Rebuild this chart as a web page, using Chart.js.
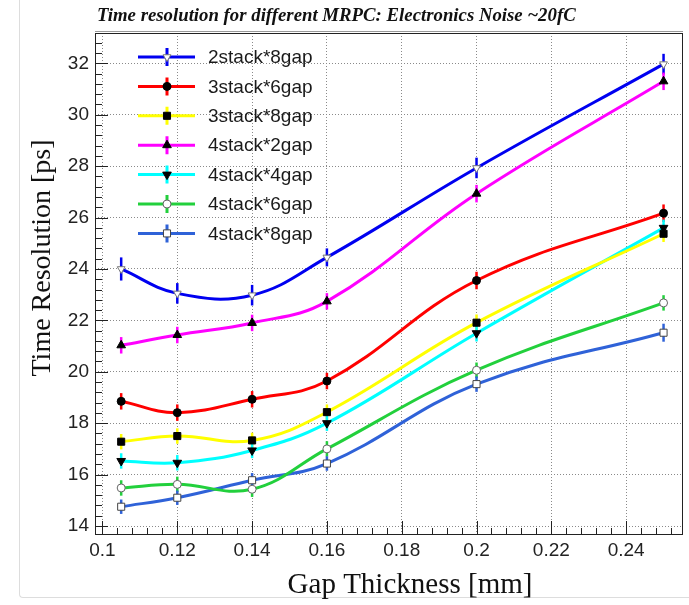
<!DOCTYPE html>
<html lang="en">
<head>
<meta charset="UTF-8">
<title>Time resolution for different MRPC</title>
<script src="https://cdn.jsdelivr.net/npm/chart.js"></script>
<style>
    body { margin: 0; background: #ffffff; overflow: hidden; }
    .wrap { position: relative; width: 689px; height: 605px; overflow: hidden; }
    .edge {
        position: absolute; left: 19px; top: -2px; width: 700px; height: 599px;
        border-left: 1px solid #dddddd; border-bottom: 1px solid #dddddd;
        border-bottom-left-radius: 4px;
    }
    #chart { display: block; position: relative; }
</style>
</head>
<body>
<div class="wrap">
    <div class="edge"></div>
    <canvas id="chart" width="689" height="605"></canvas>
</div>
<script>
// gap thickness [mm]
const gaps = [0.105, 0.12, 0.14, 0.16, 0.2, 0.25];

// time resolution [ps] per MRPC
const s2x8 = [24.0, 23.05, 22.98, 24.45, 27.93, 31.97];
const s3x6 = [18.85, 18.41, 18.93, 19.64, 23.55, 26.17];
const s3x8 = [17.28, 17.5, 17.33, 18.43, 21.91, 25.37];
const s4x2 = [21.03, 21.43, 21.9, 22.74, 26.93, 31.3];
const s4x4 = [16.53, 16.46, 16.94, 18.0, 21.5, 25.6];
const s4x6 = [15.48, 15.62, 15.43, 17.0, 20.06, 22.68];
const s4x8 = [14.75, 15.1, 15.78, 16.43, 19.52, 21.52];

// errors [ps]
const e2x8 = [0.45, 0.4, 0.4, 0.35, 0.4, 0.4];
const e3x6 = [0.32, 0.32, 0.32, 0.32, 0.34, 0.34];
const e3x8 = [0.3, 0.3, 0.3, 0.3, 0.32, 0.32];
const e4x2 = [0.32, 0.32, 0.32, 0.32, 0.34, 0.34];
const e4x4 = [0.3, 0.3, 0.3, 0.3, 0.32, 0.32];
const e4x6 = [0.3, 0.3, 0.3, 0.3, 0.3, 0.3];
const e4x8 = [0.28, 0.28, 0.28, 0.28, 0.3, 0.35];

const labels = ['2stack*8gap', '3stack*6gap', '3stack*8gap', '4stack*2gap', '4stack*4gap', '4stack*6gap', '4stack*8gap'];

// axis ticks
const xTicks = [0.1, 0.12, 0.14, 0.16, 0.18, 0.2, 0.22, 0.24];
const yTicks = [14, 16, 18, 20, 22, 24, 26, 28, 30, 32];

const values = [s2x8, s3x6, s3x8, s4x2, s4x4, s4x6, s4x8];
const errors = [e2x8, e3x6, e3x8, e4x2, e4x4, e4x6, e4x8];

// styles, same order as labels
const styles = [
    { color: '#0000f0', marker: 'triangle', rot: 180, fill: '#ffffff', edge: '#777777', r: 4.5 },
    { color: '#ff0000', marker: 'circle', rot: 0, fill: '#000000', edge: '#000000', r: 4 },
    { color: '#ffff00', marker: 'rect', rot: 0, fill: '#000000', edge: '#000000', r: 5 },
    { color: '#ff00ff', marker: 'triangle', rot: 0, fill: '#000000', edge: '#000000', r: 5 },
    { color: '#00ffff', marker: 'triangle', rot: 180, fill: '#000000', edge: '#000000', r: 5 },
    { color: '#22d03c', marker: 'circle', rot: 0, fill: '#ffffff', edge: '#666666', r: 4 },
    { color: '#2f62d8', marker: 'rect', rot: 0, fill: '#ffffff', edge: '#444444', r: 5 }
];

const datasets = labels.map((label, i) => ({
    label: label,
    data: gaps.map((g, j) => ({ x: g, y: values[i][j] })),
    errors: errors[i],
    borderColor: styles[i].color,
    borderWidth: 3,
    tension: 0.4,
    pointStyle: styles[i].marker,
    rotation: styles[i].rot,
    pointRadius: styles[i].r,
    pointBackgroundColor: styles[i].fill,
    pointBorderColor: styles[i].edge,
    pointBorderWidth: 1,
    fill: false
}));

const rootStyle = {
    id: 'rootStyle',
    beforeDatasetsDraw(chart) {
        const { ctx, scales: { x, y } } = chart;
        // error bars
        chart.data.datasets.forEach((ds) => {
            ctx.save();
            ctx.strokeStyle = ds.borderColor;
            ctx.lineWidth = 2.5;
            ds.data.forEach((p, j) => {
                const px = x.getPixelForValue(p.x);
                ctx.beginPath();
                ctx.moveTo(px, y.getPixelForValue(p.y - ds.errors[j]));
                ctx.lineTo(px, y.getPixelForValue(p.y + ds.errors[j]));
                ctx.stroke();
            });
            ctx.restore();
        });
    },
    afterDraw(chart) {
        const { ctx, chartArea: { left, right, top, bottom }, scales: { x, y } } = chart;
        ctx.save();

        // frame
        ctx.strokeStyle = '#222222';
        ctx.lineWidth = 1;
        ctx.strokeRect(left + 0.5, top + 0.5, right - left - 1, bottom - top - 1);
        ctx.beginPath();
        ctx.moveTo(left, top - 1.5);
        ctx.lineTo(right, top - 1.5);
        ctx.strokeStyle = '#999999';
        ctx.stroke();

        // inner ticks
        ctx.strokeStyle = '#222222';
        ctx.beginPath();
        for (let k = 0; k < 50; k++) {
            const v = 14 + k * 0.4;
            if (v > y.max) break;
            const py = Math.round(y.getPixelForValue(v)) + 0.5;
            ctx.moveTo(left, py);
            ctx.lineTo(left + (k % 5 === 0 ? 13 : 7), py);
        }
        for (let k = 0; k < 40; k++) {
            const v = 0.1 + k * 0.004;
            if (v > x.max) break;
            const px = Math.round(x.getPixelForValue(v)) + 0.5;
            ctx.moveTo(px, bottom);
            ctx.lineTo(px, bottom - (k % 5 === 0 ? 14 : 7));
        }
        ctx.stroke();

        // legend
        chart.data.datasets.forEach((ds, i) => {
            const cy = 57 + i * 29.4;
            ctx.strokeStyle = ds.borderColor;
            ctx.lineWidth = 3;
            ctx.beginPath();
            ctx.moveTo(138, cy);
            ctx.lineTo(195, cy);
            ctx.moveTo(167, cy - 9);
            ctx.lineTo(167, cy + 9);
            ctx.stroke();
            ctx.fillStyle = ds.pointBackgroundColor;
            ctx.strokeStyle = ds.pointBorderColor;
            ctx.lineWidth = 1;
            Chart.helpers.drawPoint(ctx, {
                pointStyle: ds.pointStyle,
                rotation: ds.rotation,
                radius: ds.pointRadius,
                borderWidth: 1
            }, 167, cy);
            ctx.fillStyle = '#1a1a1a';
            ctx.font = '19px "Liberation Sans", Arial, sans-serif';
            ctx.textAlign = 'left';
            ctx.textBaseline = 'middle';
            ctx.fillText(ds.label, 208, cy + 1);
        });

        // titles
        ctx.fillStyle = '#111111';
        ctx.textAlign = 'left';
        ctx.textBaseline = 'alphabetic';
        ctx.font = 'italic bold 18.8px "Liberation Serif", "Times New Roman", serif';
        ctx.fillText('Time resolution for different MRPC: Electronics Noise ~20fC', 97, 21);

        ctx.font = '29px "Liberation Serif", "Times New Roman", serif';
        ctx.textAlign = 'center';
        ctx.fillText('Gap Thickness [mm]', 410, 593);

        ctx.translate(50, 258);
        ctx.rotate(-Math.PI / 2);
        ctx.font = '28px "Liberation Serif", "Times New Roman", serif';
        ctx.fillText('Time Resolution [ps]', 0, 0);
        ctx.restore();
    }
};

const tickFont = { family: '"Liberation Sans", Arial, sans-serif', size: 19 };

new Chart(document.getElementById('chart'), {
    type: 'line',
    data: { datasets: datasets },
    options: {
        responsive: false,
        animation: false,
        layout: { padding: { top: 33, right: 3, left: 0, bottom: 0 } },
        plugins: {
            legend: { display: false },
            title: { display: false },
            tooltip: { enabled: false }
        },
        scales: {
            x: {
                type: 'linear',
                min: 0.098,
                max: 0.2552,
                afterFit: (s) => { s.height = 70; },
                afterBuildTicks: (s) => { s.ticks = xTicks.map(v => ({ value: v })); },
                grid: { color: '#8a8a8a', lineWidth: 1, drawTicks: false },
                border: { display: false, dash: [1, 2] },
                ticks: {
                    font: tickFont,
                    color: '#222222',
                    padding: 4,
                    maxRotation: 0,
                    callback: (v) => String(v)
                }
            },
            y: {
                type: 'linear',
                min: 13.65,
                max: 33.18,
                afterFit: (s) => { s.width = 95; },
                afterBuildTicks: (s) => { s.ticks = yTicks.map(v => ({ value: v })); },
                grid: { color: '#8a8a8a', lineWidth: 1, drawTicks: false },
                border: { display: false, dash: [1, 2] },
                ticks: {
                    font: tickFont,
                    color: '#222222',
                    padding: 6,
                    callback: (v) => String(v)
                }
            }
        }
    },
    plugins: [rootStyle]
});
</script>
</body>
</html>
